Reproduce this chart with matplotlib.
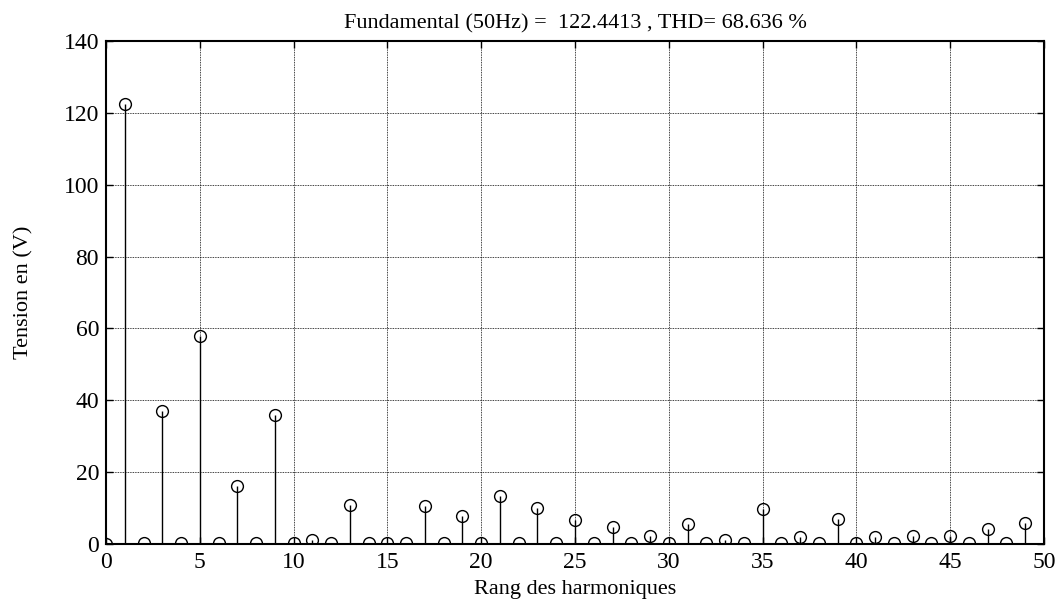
import matplotlib
matplotlib.use("Agg")
import matplotlib.pyplot as plt
import numpy as np

# Harmonic spectrum of the voltage (rank 0 = DC, rank 1 = fundamental)
ranks = list(range(0, 50))
amplitudes = [
    0.0, 122.44, 0.3, 37.0, 0.3, 57.8, 0.3, 16.1, 0.3, 35.9,
    0.3, 1.1, 0.3, 10.8, 0.3, 0.3, 0.3, 10.5, 0.3, 7.9,
    0.3, 13.4, 0.3, 10.1, 0.3, 6.8, 0.3, 4.8, 0.3, 2.3,
    0.3, 5.6, 0.3, 1.0, 0.3, 9.7, 0.3, 1.9, 0.3, 7.1,
    0.3, 1.9, 0.3, 2.2, 0.3, 2.3, 0.3, 4.2, 0.3, 5.9,
]
fundamental = 122.4413
thd = 68.636

x_ticks = [0, 5, 10, 15, 20, 25, 30, 35, 40, 45, 50]
y_ticks = [0, 20, 40, 60, 80, 100, 120, 140]

plt.rcParams["font.family"] = ["Liberation Serif", "DejaVu Serif"]

fig = plt.figure(figsize=(10.59, 6.05), dpi=100)
ax = fig.add_axes([0.1001, 0.1008, 0.8857, 0.8314])

markerline, stemlines, baseline = ax.stem(ranks, amplitudes, basefmt="k-")
markerline.set_marker("o")
markerline.set_markersize(8.5)
markerline.set_markerfacecolor("none")
markerline.set_markeredgecolor("black")
markerline.set_markeredgewidth(1.0)
stemlines.set_color("black")
stemlines.set_linewidth(1.0)
baseline.set_linewidth(2.0)
baseline.set_color("black")
baseline.set_xdata([0, 50])

ax.set_xlim(0, 50)
ax.set_ylim(0, 140)
ax.set_xticks(x_ticks)
ax.set_yticks(y_ticks)
ax.grid(True, color="black", linestyle=(0, (1, 1)), linewidth=0.6)
ax.set_axisbelow(True)
ax.tick_params(direction="in", length=5, width=1, labelsize=17,
               top=True, right=True, pad=5)
ax.tick_params(axis="x", pad=6)
for s in ax.spines.values():
    s.set_linewidth(1.5)

ax.set_xlabel("Rang des harmoniques", fontsize=16, labelpad=5)
ax.set_ylabel("Tension en (V)", fontsize=16, labelpad=22)
ax.set_title(f"Fundamental (50Hz) =  {fundamental:.4f} , THD= {thd:.3f} %",
             fontsize=16, pad=9)

fig.savefig("out.png", dpi=100)
